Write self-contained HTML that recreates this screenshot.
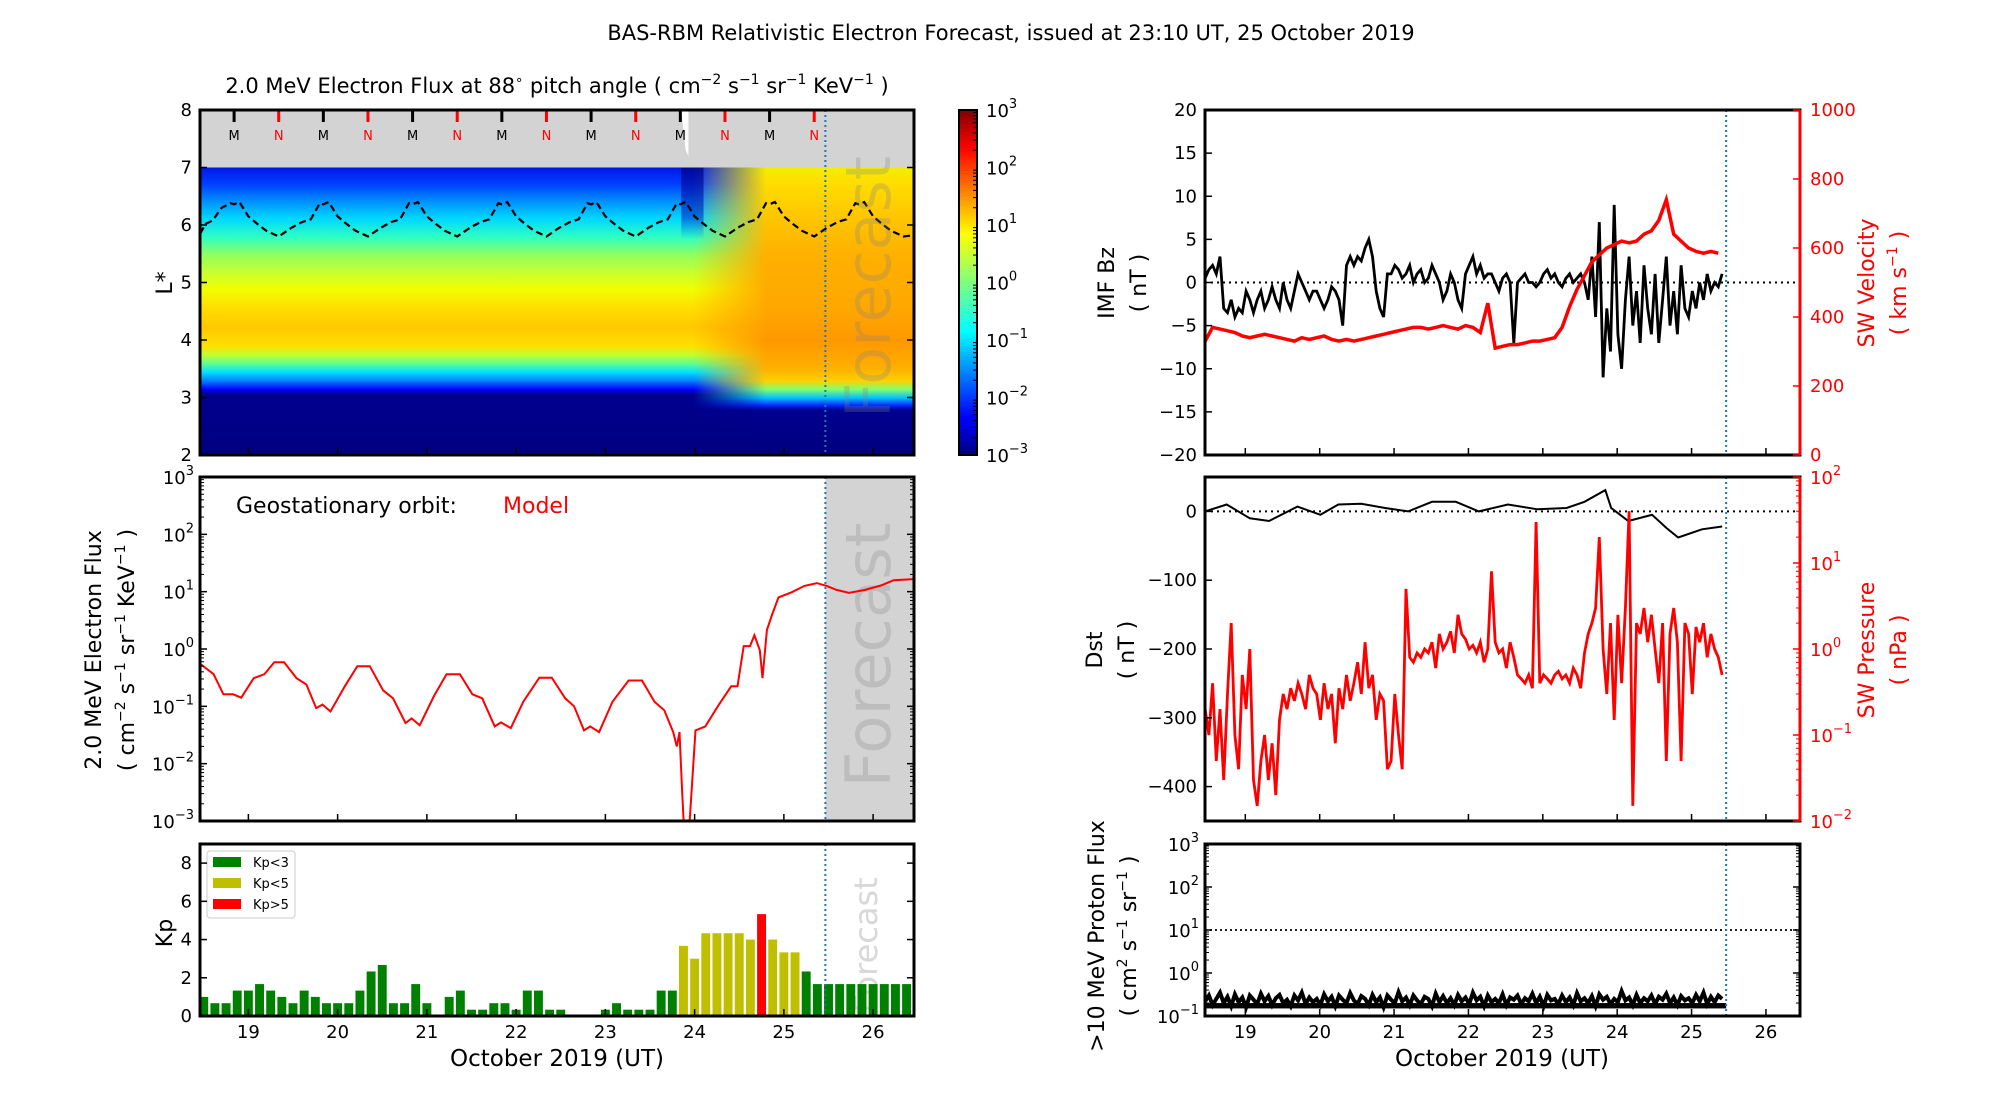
<!DOCTYPE html>
<html><head><meta charset="utf-8"><title>BAS-RBM Relativistic Electron Forecast</title>
<style>
html,body{margin:0;padding:0;background:#fff;}
svg{display:block;font-family:"DejaVu Sans","Liberation Sans",sans-serif;}
</style></head>
<body>
<svg id="chart" xmlns="http://www.w3.org/2000/svg" width="2000" height="1100" viewBox="0 0 2000 1100">
<defs>
<linearGradient id="gLeft" gradientUnits="userSpaceOnUse" x1="0" y1="455" x2="0" y2="110">
<stop offset="0" stop-color="#00007f"/><stop offset="0.175" stop-color="#00008f"/><stop offset="0.19" stop-color="#0000ff"/>
<stop offset="0.215" stop-color="#0080ff"/><stop offset="0.24" stop-color="#00e0ff"/><stop offset="0.265" stop-color="#60ff90"/>
<stop offset="0.29" stop-color="#c0ff30"/><stop offset="0.315" stop-color="#ffe000"/><stop offset="0.37" stop-color="#ffc800"/>
<stop offset="0.43" stop-color="#ffe000"/><stop offset="0.48" stop-color="#f0ff00"/><stop offset="0.53" stop-color="#c8ff30"/>
<stop offset="0.58" stop-color="#90ff60"/><stop offset="0.63" stop-color="#30ffc0"/><stop offset="0.685" stop-color="#00d8ff"/>
<stop offset="0.735" stop-color="#0090ff"/><stop offset="0.785" stop-color="#0040ff"/><stop offset="0.833" stop-color="#0018e8"/>
<stop offset="1" stop-color="#0018e8"/>
</linearGradient>
<linearGradient id="gRight" gradientUnits="userSpaceOnUse" x1="0" y1="455" x2="0" y2="110">
<stop offset="0" stop-color="#00007f"/><stop offset="0.13" stop-color="#00008f"/><stop offset="0.145" stop-color="#0030ff"/>
<stop offset="0.165" stop-color="#00c0ff"/><stop offset="0.19" stop-color="#80ff70"/><stop offset="0.215" stop-color="#ffd000"/>
<stop offset="0.25" stop-color="#ffb000"/><stop offset="0.33" stop-color="#ff9800"/><stop offset="0.43" stop-color="#ffa800"/>
<stop offset="0.58" stop-color="#ffb000"/><stop offset="0.70" stop-color="#ffc800"/><stop offset="0.80" stop-color="#ffe000"/>
<stop offset="0.833" stop-color="#f0f000"/><stop offset="1" stop-color="#f0f000"/>
</linearGradient>
<linearGradient id="gMaskH" gradientUnits="userSpaceOnUse" x1="693" y1="0" x2="766" y2="0">
<stop offset="0" stop-color="#fff" stop-opacity="0"/><stop offset="0.6" stop-color="#fff" stop-opacity="0.6"/><stop offset="1" stop-color="#fff" stop-opacity="1"/>
</linearGradient>
<mask id="mRight"><rect x="600" y="100" width="400" height="400" fill="url(#gMaskH)"/></mask>
<linearGradient id="gStreak" x1="0" y1="0" x2="0" y2="1">
<stop offset="0" stop-color="#000080" stop-opacity="0.7"/><stop offset="0.7" stop-color="#0010c0" stop-opacity="0.5"/><stop offset="1" stop-color="#0040ff" stop-opacity="0"/>
</linearGradient>
<linearGradient id="gJet" x1="0" y1="1" x2="0" y2="0">
<stop offset="0" stop-color="#00007f"/><stop offset="0.11" stop-color="#0000ff"/><stop offset="0.36" stop-color="#00ffff"/>
<stop offset="0.5" stop-color="#7fff7f"/><stop offset="0.64" stop-color="#ffff00"/><stop offset="0.89" stop-color="#ff0000"/><stop offset="1" stop-color="#7f0000"/>
</linearGradient>
<clipPath id="cLA"><rect x="200" y="110" width="714" height="345"/></clipPath>
<clipPath id="cLB"><rect x="200" y="477" width="714" height="344"/></clipPath>
<clipPath id="cLC"><rect x="200" y="844" width="714" height="172"/></clipPath>
<clipPath id="cRA"><rect x="1205" y="110" width="595" height="344"/></clipPath>
<clipPath id="cRB"><rect x="1205" y="477" width="595" height="344"/></clipPath>
<clipPath id="cRC"><rect x="1205" y="844" width="595" height="172"/></clipPath>
</defs>
<text x="1011" y="40" font-size="21" text-anchor="middle">BAS-RBM Relativistic Electron Forecast, issued at 23:10 UT, 25 October 2019</text>
<text x="557" y="93" font-size="21" text-anchor="middle">2.0 MeV Electron Flux at 88<tspan font-size="13" dy="-9">∘</tspan><tspan dy="9"> pitch angle ( cm</tspan><tspan font-size="14" dy="-9">−2</tspan><tspan dy="9"> s</tspan><tspan font-size="14" dy="-9">−1</tspan><tspan dy="9"> sr</tspan><tspan font-size="14" dy="-9">−1</tspan><tspan dy="9"> KeV</tspan><tspan font-size="14" dy="-9">−1</tspan><tspan dy="9"> )</tspan></text>
</svg>
<script>
// ---------- data ----------
const days = [19, 20, 21, 22, 23, 24, 25, 26];
const mnDaysM = [18.84, 19.84, 20.84, 21.84, 22.84, 23.84, 24.84];
const mnDaysN = [19.34, 20.34, 21.34, 22.34, 23.34, 24.34, 25.34];
const lstarDays = [18.46,18.52,18.6,18.7,18.8,18.84,18.9,19.0,19.1,19.2,19.34,19.48,19.6,19.7,19.8,19.84,19.9,20.0,20.1,20.2,20.34,20.48,20.6,20.7,20.8,20.84,20.9,21.0,21.1,21.2,21.34,21.48,21.6,21.7,21.8,21.84,21.9,22.0,22.1,22.2,22.34,22.48,22.6,22.7,22.8,22.84,22.9,23.0,23.1,23.2,23.34,23.48,23.6,23.7,23.8,23.84,23.9,24.0,24.1,24.2,24.34,24.48,24.6,24.7,24.8,24.84,24.9,25.0,25.1,25.2,25.34,25.48,25.6,25.7,25.8,25.84,25.9,26.0,26.1,26.2,26.34,26.45];
const lstarVals = [5.85,6.02,6.08,6.3,6.38,6.36,6.4,6.15,6.02,5.9,5.8,5.95,6.05,6.1,6.38,6.36,6.4,6.15,6.02,5.9,5.8,5.95,6.05,6.1,6.38,6.36,6.4,6.15,6.02,5.9,5.8,5.95,6.05,6.1,6.38,6.36,6.4,6.15,6.02,5.9,5.8,5.95,6.05,6.1,6.38,6.36,6.4,6.15,6.02,5.9,5.8,5.95,6.05,6.1,6.38,6.36,6.4,6.15,6.02,5.9,5.8,5.95,6.05,6.1,6.38,6.36,6.4,6.15,6.02,5.9,5.8,5.95,6.05,6.1,6.38,6.36,6.4,6.15,6.02,5.9,5.8,5.82];
const geoDays = [18.47,18.61,18.72,18.83,18.92,19.06,19.18,19.29,19.40,19.54,19.65,19.76,19.83,19.92,20.08,20.22,20.36,20.51,20.62,20.76,20.83,20.92,21.08,21.22,21.37,21.51,21.62,21.76,21.83,21.94,22.08,22.26,22.40,22.55,22.65,22.76,22.83,22.93,23.08,23.26,23.41,23.55,23.66,23.76,23.80,23.83,23.86,23.88,23.94,24.01,24.12,24.26,24.41,24.48,24.55,24.62,24.67,24.73,24.76,24.81,24.87,24.94,25.09,25.23,25.37,25.48,25.59,25.73,25.91,26.09,26.23,26.45];
const geoLogFlux = [-0.27,-0.44,-0.79,-0.79,-0.85,-0.51,-0.44,-0.23,-0.23,-0.51,-0.62,-1.03,-0.97,-1.09,-0.65,-0.30,-0.30,-0.72,-0.86,-1.29,-1.21,-1.33,-0.82,-0.44,-0.44,-0.79,-0.86,-1.35,-1.28,-1.38,-0.92,-0.50,-0.50,-0.86,-1.00,-1.42,-1.35,-1.45,-0.92,-0.55,-0.55,-0.92,-1.07,-1.45,-1.70,-1.45,-2.47,-3.1,-3.1,-1.42,-1.35,-1.00,-0.65,-0.65,0.05,0.05,0.24,-0.02,-0.51,0.33,0.61,0.90,0.99,1.10,1.15,1.10,1.03,0.98,1.03,1.11,1.20,1.22];
const kpStart = 18.5, kpStep = 0.125;
const kpVals = [1.0,0.67,0.67,1.33,1.33,1.67,1.33,1.0,0.67,1.33, 1.0,0.67,0.67,0.67,1.33,2.33,2.67,0.67,0.67,1.67, 0.67,0,1.0,1.33,0.33,0.33,0.67,0.67,0.33,1.33, 1.33,0.33,0.33,0,0,0,0.33,0.67,0.33,0.33, 0.33,1.33,1.33,3.67,3.0,4.33,4.33,4.33,4.33,4.0, 5.33,4.0,3.33,3.33,2.33, 1.67,1.67,1.67,1.67,1.67,1.67,1.67,1.67,1.67];
const swStart = 18.46, swStep = 0.05;
const bzVals = [0.5,1.5,2,1,3,-3,-3.5,-2,-4,-3, -3.5,-1,-2,-3.5,-2,-1,-3,-2,-0.5,-2, -3,0,-2,-3,-1,1,0,-1,-2,-1, -1,-2,-3,-2,-0.5,-1,-2,-5,2,3, 2,3,2.5,4,5,3,-1,-3,-4,1, 1,2,1.5,0.5,1,2,0,1,1.5,0, 0.5,2,1,0,-2,-1,1,0,-2,-3, 1,2,3,1,2,0.5,1,1,0,-1, 0.5,1,0,-7,0,0.5,1,0,0,-0.5, 0,1,1.5,0.5,1,0,-0.5,0.5,1,0, 0.5,1,0,-2,3,-4,7,-11,-3,-8, 9,-6,-10,-2,3,-5,-1,-7,2,-3, -6,1,-7,-2,3,-5,-1,-6,2,-3, -4,-1,-3,0,-2,1,-1,0,-0.5,1];
const vStep = 0.1;
const velVals = [330,370,365,360,355,345,340,345,350,345, 340,335,330,340,335,340,345,335,330,335, 330,335,340,345,350,355,360,365,370,370, 365,370,375,370,365,375,370,355,440,310, 315,320,320,325,330,330,335,340,370,430, 480,520,560,580,600,610,620,615,620,640, 650,680,740,640,620,600,590,585,590,585];
const dstDays = [18.46,18.75,19.06,19.32,19.70,20.01,20.25,20.56,20.88,21.19,21.51,21.83,22.14,22.53,22.93,23.32,23.56,23.84,23.92,24.15,24.47,24.66,24.82,25.14,25.41];
const dstVals = [0,10,-10,-14,7,-5,10,11,5,0,14,14,0,10,3,5,14,31,5,-14,-5,-24,-38,-26,-22];
const pVals = [0.2,0.1,0.4,0.05,0.2,0.03,0.3,2,0.1,0.04, 0.5,0.2,1.0,0.03,0.015,0.05,0.1,0.03,0.08,0.02, 0.15,0.3,0.2,0.35,0.25,0.4,0.3,0.2,0.5,0.35, 0.3,0.15,0.4,0.2,0.3,0.08,0.35,0.2,0.5,0.25, 0.4,0.7,0.3,1.2,0.35,0.5,0.15,0.3,0.25,0.04, 0.05,0.3,0.1,0.04,5,0.8,0.7,0.9,0.8,1.0, 0.9,1.2,0.6,1.5,1.0,1.2,1.6,0.9,2.5,1.5, 1.3,1.0,1.1,0.9,1.2,0.7,1.0,8,1.2,0.9, 1.0,0.6,1.2,0.8,0.5,0.45,0.4,0.5,0.35,30, 0.4,0.5,0.45,0.4,0.5,0.55,0.45,0.5,0.4,0.6, 0.5,0.35,0.9,1.5,2,3,20,1.0,0.3,2, 0.15,2.5,0.4,3,40,0.015,2,1.5,3,1.2, 2.5,1,0.4,2,0.05,1.5,3,1.2,0.05,2, 1.5,0.3,1.8,1.2,2,0.8,1.5,1.0,0.8,0.5];
const protVals = [0.22,0.3,0.18,0.25,0.35,0.2,0.28,0.17,0.32,0.21, 0.27,0.16,0.3,0.24,0.19,0.33,0.22,0.29,0.18,0.26, 0.31,0.2,0.24,0.17,0.3,0.23,0.35,0.19,0.27,0.21, 0.25,0.18,0.32,0.22,0.28,0.17,0.3,0.24,0.2,0.34, 0.23,0.19,0.29,0.25,0.18,0.31,0.21,0.27,0.16,0.3, 0.24,0.2,0.36,0.22,0.27,0.18,0.3,0.23,0.19,0.28, 0.25,0.17,0.33,0.21,0.29,0.2,0.26,0.18,0.31,0.22, 0.27,0.19,0.35,0.23,0.28,0.17,0.3,0.21,0.25,0.2, 0.32,0.18,0.27,0.24,0.3,0.19,0.26,0.22,0.33,0.2, 0.28,0.17,0.31,0.23,0.25,0.19,0.3,0.21,0.27,0.18, 0.34,0.22,0.26,0.2,0.29,0.17,0.32,0.24,0.28,0.19, 0.25,0.21,0.38,0.23,0.27,0.18,0.31,0.2,0.26,0.22, 0.3,0.19,0.28,0.24,0.33,0.2,0.27,0.18,0.29,0.23, 0.26,0.2,0.31,0.22,0.35,0.19,0.28,0.21,0.3,0.25];
const forecastDay = 25.465;

// ---------- helpers ----------
const NS = 'http://www.w3.org/2000/svg';
const svg = document.getElementById('chart');
function mk(tag, attrs, parent) { const e = document.createElementNS(NS, tag); for (const k in attrs) e.setAttribute(k, attrs[k]); (parent || svg).appendChild(e); return e; }
const D0 = 18.458, D1 = 26.458;
const L = {x0:200, x1:914}, R = {x0:1205, x1:1800};
const A = {y0:110, y1:455}, B = {y0:477, y1:821}, C = {y0:844, y1:1016};
const xL = d => L.x0 + (d - D0) * (L.x1 - L.x0) / (D1 - D0);
const xR = d => R.x0 + (d - D0) * (R.x1 - R.x0) / (D1 - D0);
const yLs = v => A.y1 - (v - 2) * (A.y1 - A.y0) / 6;
const yGeo = lg => B.y1 - (lg + 3) * (B.y1 - B.y0) / 6;
const yKp = v => C.y1 - v * (C.y1 - C.y0) / 9;
const yBz = v => A.y1 - (v + 20) * (A.y1 - A.y0) / 40;
const yVel = v => A.y1 - v * (A.y1 - A.y0) / 1000;
const yDst = v => B.y1 - (v + 450) * (B.y1 - B.y0) / 500;
const yP = p => B.y1 - (Math.log10(p) + 2) * (B.y1 - B.y0) / 4;
const yPr = p => C.y1 - (Math.log10(p) + 1) * (C.y1 - C.y0) / 4;

function pathFrom(xs, ys) { return xs.map((x, i) => (i ? 'L' : 'M') + x.toFixed(1) + ' ' + ys[i].toFixed(1)).join(''); }
function supLabel(g, x, y, exp, anchor, color, name) {
  const t = mk('text', {x:x, y:y, 'font-size':18, 'text-anchor':anchor, fill:color||'#000'}, g);
  
  
  t.appendChild(document.createTextNode('10'));
  const s = mk('tspan', {'font-size':13, dy:-9}, t); s.textContent = exp;
  return t;
}

// ---------- panel A left: flux map ----------
const gA = mk('g', {'clip-path':'url(#cLA)'});


const hmLeft = mk('rect', {x:L.x0, y:yLs(7), width:L.x1-L.x0, height:yLs(2)-yLs(7), fill:'url(#gLeft)'}, gA);


const hmRight = mk('rect', {x:xL(23.8), y:yLs(7), width:L.x1-xL(23.8), height:yLs(2)-yLs(7), fill:'url(#gRight)', mask:'url(#mRight)'}, gA);


const streak = mk('rect', {x:xL(23.85), y:yLs(7), width:xL(24.1)-xL(23.85), height:yLs(5.75)-yLs(7), fill:'url(#gStreak)'}, gA);


const topGray = mk('rect', {x:L.x0, y:yLs(8), width:L.x1-L.x0, height:yLs(7)-yLs(8), fill:'#d3d3d3'}, gA);


const wspike = mk('path', {d:`M${xL(23.85)} ${yLs(8)}L${xL(23.93)} ${yLs(8)}L${xL(23.93)} ${yLs(7.2)}L${xL(23.9)} ${yLs(7.3)}Z`, fill:'#fff'}, gA);


const dash = mk('path', {d:pathFrom(lstarDays.map(xL), lstarVals.map(yLs)), fill:'none', stroke:'#000', 'stroke-width':2.2, 'stroke-dasharray':'7 4'}, gA);


mnDaysM.forEach(d => {
  const t = mk('line', {x1:xL(d), x2:xL(d), y1:A.y0, y2:A.y0+12, stroke:'#000', 'stroke-width':3}, gA);
  
  
  const s = mk('text', {x:xL(d), y:A.y0+30, 'font-size':13, 'text-anchor':'middle', fill:'#000'}, gA);
  
  
  s.textContent = 'M';
});
mnDaysN.forEach(d => {
  const t = mk('line', {x1:xL(d), x2:xL(d), y1:A.y0, y2:A.y0+12, stroke:'#f00', 'stroke-width':3}, gA);
  
  
  const s = mk('text', {x:xL(d), y:A.y0+30, 'font-size':13, 'text-anchor':'middle', fill:'#f00'}, gA);
  
  
  s.textContent = 'N';
});
const fcA = mk('text', {x:0, y:0, 'font-size':62, fill:'#808080', 'fill-opacity':0.28, 'text-anchor':'middle', textLength:262, lengthAdjust:'spacingAndGlyphs', transform:`translate(890,287) rotate(-90)`}, gA);


fcA.textContent = 'Forecast';

// ---------- panel B left: geo flux ----------
const gB = mk('g', {'clip-path':'url(#cLB)'});


const fcBg = mk('rect', {x:xL(forecastDay), y:B.y0, width:L.x1-xL(forecastDay), height:B.y1-B.y0, fill:'#d3d3d3'}, gB);


const fcB = mk('text', {x:0, y:0, 'font-size':62, fill:'#bdbdbd', 'text-anchor':'middle', textLength:265, lengthAdjust:'spacingAndGlyphs', transform:`translate(890,655) rotate(-90)`}, gB);


fcB.textContent = 'Forecast';
const geoLine = mk('path', {d:pathFrom(geoDays.map(xL), geoLogFlux.map(yGeo)), fill:'none', stroke:'#f00', 'stroke-width':2}, gB);


const geoT = mk('text', {x:236, y:513, 'font-size':22});


geoT.textContent = 'Geostationary orbit:';
const geoM = mk('text', {x:503, y:513, 'font-size':22, fill:'#f00'});


geoM.textContent = 'Model';

// ---------- panel C left: Kp ----------
const gC = mk('g', {'clip-path':'url(#cLC)'});


const fcC = mk('text', {x:0, y:0, 'font-size':32, fill:'#d8d8d8', 'text-anchor':'middle', transform:`translate(877,945) rotate(-90)`}, gC);


fcC.textContent = 'Forecast';
const bw = (xL(1) - xL(0)) * kpStep * 0.8;
kpVals.forEach((v, i) => {
  const d = kpStart + i * kpStep;
  const col = v > 5 ? '#ff0000' : (v >= 3 ? '#bfbf00' : '#008000');
  const b = mk('rect', {x:xL(d)-bw/2, y:yKp(v), width:bw, height:yKp(0)-yKp(v), fill:col}, gC);
  
  
});
const leg = mk('g', {});


mk('rect', {x:207, y:851, width:88, height:67, rx:3, fill:'#fff', stroke:'#cccccc'}, leg);
[['#008000','Kp<3'],['#bfbf00','Kp<5'],['#ff0000','Kp>5']].forEach((e, i) => {
  const sw = mk('rect', {x:213, y:857+i*21, width:28, height:10, fill:e[0]}, leg);
  
  
  const t = mk('text', {x:253, y:867+i*21, 'font-size':13}, leg);
  
  
  t.textContent = e[1];
});

// ---------- right panel A: Bz & velocity ----------
const gRA = mk('g', {'clip-path':'url(#cRA)'});


const z0 = mk('line', {x1:R.x0, x2:R.x1, y1:yBz(0), y2:yBz(0), stroke:'#000', 'stroke-width':2, 'stroke-dasharray':'2 4'}, gRA);


const bzLine = mk('path', {d:pathFrom(bzVals.map((v,i)=>xR(swStart+i*swStep)), bzVals.map(yBz)), fill:'none', stroke:'#000', 'stroke-width':2.8}, gRA);


const vLine = mk('path', {d:pathFrom(velVals.map((v,i)=>xR(swStart+i*vStep)), velVals.map(yVel)), fill:'none', stroke:'#f00', 'stroke-width':3.5}, gRA);



// ---------- right panel B: Dst & pressure ----------
const gRB = mk('g', {'clip-path':'url(#cRB)'});


const d0 = mk('line', {x1:R.x0, x2:R.x1, y1:yDst(0), y2:yDst(0), stroke:'#000', 'stroke-width':2, 'stroke-dasharray':'2 4'}, gRB);


const dstLine = mk('path', {d:pathFrom(dstDays.map(xR), dstVals.map(yDst)), fill:'none', stroke:'#000', 'stroke-width':2}, gRB);


const pLine = mk('path', {d:pathFrom(pVals.map((v,i)=>xR(swStart+i*swStep)), pVals.map(yP)), fill:'none', stroke:'#f00', 'stroke-width':2.8}, gRB);



// ---------- right panel C: proton ----------
const gRC = mk('g', {'clip-path':'url(#cRC)'});


const p10 = mk('line', {x1:R.x0, x2:R.x1, y1:yPr(10), y2:yPr(10), stroke:'#000', 'stroke-width':1.8, 'stroke-dasharray':'2 3'}, gRC);


const prLine = mk('path', {d:pathFrom(protVals.map((v,i)=>xR(swStart+i*swStep)), protVals.map(yPr)), fill:'none', stroke:'#000', 'stroke-width':4}, gRC);


const prBase = mk('rect', {x:xR(swStart), y:yPr(0.2), width:xR(forecastDay)-xR(swStart), height:yPr(0.15)-yPr(0.2), fill:'#000'}, gRC);



// ---------- forecast lines ----------
[[xL(forecastDay), A], [xL(forecastDay), B], [xL(forecastDay), C], [xR(forecastDay), A], [xR(forecastDay), B], [xR(forecastDay), C]].forEach(p => {
  const l = mk('line', {x1:p[0], x2:p[0], y1:p[1].y0, y2:p[1].y1, stroke:'#1f77b4', 'stroke-width':2, 'stroke-dasharray':'2 3'});
  
  
});

// ---------- axes frames & ticks ----------
function frame(x0, x1, Y, name, rightColor) {
  const r = mk('rect', {x:x0, y:Y.y0, width:x1-x0, height:Y.y1-Y.y0, fill:'none', stroke:'#000', 'stroke-width':3});
  
  
  if (rightColor) { const l = mk('line', {x1:x1, x2:x1, y1:Y.y0, y2:Y.y1, stroke:rightColor, 'stroke-width':3});   }
}
function xticks(xf, Y, labels) {
  days.forEach(d => {
    const t = mk('line', {x1:xf(d), x2:xf(d), y1:Y.y1, y2:Y.y1-7, stroke:'#000', 'stroke-width':1.5});
    
    
    if (labels) {
      const s = mk('text', {x:xf(d), y:Y.y1+22, 'font-size':18, 'text-anchor':'middle'});
      
      
      s.textContent = d;
    }
  });
}
function yticks(x0, x1, yf, vals, fmt, color, side, minor) {
  vals.forEach(v => {
    const y = yf(v);
    if (side !== 'right-only') {
      const t = mk('line', {x1:x0, x2:x0+7, y1:y, y2:y, stroke:'#000', 'stroke-width':1.5});
       
    }
    if (side === 'both' || side === 'right-only') {
      const t2 = mk('line', {x1:x1, x2:x1-7, y1:y, y2:y, stroke:color||'#000', 'stroke-width':1.5});
       
    }
  });
  (minor||[]).forEach(v => {
    const y = yf(v);
    if (side !== 'right-only') { const t = mk('line', {x1:x0, x2:x0+4, y1:y, y2:y, stroke:'#000', 'stroke-width':1});   }
    if (side === 'both' || side === 'right-only') { const t = mk('line', {x1:x1, x2:x1-4, y1:y, y2:y, stroke:color||'#000', 'stroke-width':1});   }
  });
}
function logMinor(a, b, asLog) { const m = []; for (let e = a; e < b; e++) for (let k = 2; k < 10; k++) m.push(asLog ? e + Math.log10(k) : Math.pow(10, e) * k); return m; }
function plainLabels(x, yf, vals, color, anchor) {
  vals.forEach(v => {
    const s = mk('text', {x:x, y:yf(v)+6, 'font-size':18, 'text-anchor':anchor, fill:color||'#000'});
     
    s.textContent = String(v).replace('-', '−');
  });
}

// Left A
frame(L.x0, L.x1, A, 'flux-map-axes');
xticks(xL, A, false);
const lsT = [2,3,4,5,6,7,8];
yticks(L.x0, L.x1, yLs, lsT, null, null, 'both');
plainLabels(L.x0-8, yLs, lsT, '#000', 'end');
// Left B
frame(L.x0, L.x1, B, 'geo-flux-axes');
xticks(xL, B, false);
const geoT2 = [-3,-2,-1,0,1,2,3];
yticks(L.x0, L.x1, yGeo, geoT2, null, null, 'both', logMinor(-3, 3, true));
geoT2.forEach(e => supLabel(svg, L.x0-6, yGeo(e)+7, String(e).replace('-', '−'), 'end', '#000', 'y-tick-label'));
// Left C
frame(L.x0, L.x1, C, 'kp-axes');
xticks(xL, C, true);
const kpT = [0,2,4,6,8];
yticks(L.x0, L.x1, yKp, kpT, null, null, 'both');
plainLabels(L.x0-8, yKp, kpT, '#000', 'end');
// Colorbar
const cb = mk('rect', {x:959, y:110, width:18, height:345, fill:'url(#gJet)', stroke:'#000', 'stroke-width':2});


const cbY = e => 455 - (e + 3) * 345 / 6;
logMinor(-3, 3, true).forEach(e => { const t = mk('line', {x1:977, x2:973, y1:cbY(e), y2:cbY(e), stroke:'#000', 'stroke-width':1});   });
geoT2.forEach(e => supLabel(svg, 986, cbY(e)+7, String(e).replace('-', '−'), 'start', '#000', 'colorbar-label'));

// Right A
frame(R.x0, R.x1, A, 'imf-bz-axes', '#f00');
xticks(xR, A, false);
const bzT = [-20,-15,-10,-5,0,5,10,15,20];
yticks(R.x0, R.x1, yBz, bzT, null, null, 'left');
plainLabels(R.x0-8, yBz, bzT, '#000', 'end');
const vT = [0,200,400,600,800,1000];
yticks(R.x0, R.x1, yVel, vT, null, '#f00', 'right-only');
plainLabels(R.x1+10, yVel, vT, '#f00', 'start');
// Right B
frame(R.x0, R.x1, B, 'dst-axes', '#f00');
xticks(xR, B, false);
const dT = [-400,-300,-200,-100,0];
yticks(R.x0, R.x1, yDst, dT, null, null, 'left');
plainLabels(R.x0-8, yDst, dT, '#000', 'end');
const pT = [-2,-1,0,1,2];
yticks(R.x0, R.x1, e => yP(Math.pow(10, e)), pT, null, '#f00', 'right-only', logMinor(-2, 2, true));
pT.forEach(e => supLabel(svg, R.x1+10, yP(Math.pow(10, e))+7, String(e).replace('-', '−'), 'start', '#f00', 'pressure-tick-label'));
// Right C
frame(R.x0, R.x1, C, 'proton-axes');
xticks(xR, C, true);
const prT = [-1,0,1,2,3];
yticks(R.x0, R.x1, e => yPr(Math.pow(10, e)), prT, null, null, 'both', logMinor(-1, 3, true));
prT.forEach(e => supLabel(svg, R.x0-6, yPr(Math.pow(10, e))+7, String(e).replace('-', '−'), 'end', '#000', 'y-tick-label'));

// ---------- axis titles ----------
function rotText(x, y, str, size, color, name) {
  const t = mk('text', {x:0, y:0, 'font-size':size, 'text-anchor':'middle', fill:color||'#000', transform:`translate(${x},${y}) rotate(-90)`});
  
  
  t.innerHTML = str;
  return t;
}
rotText(172, 283, 'L*', 22, '#000', 'lstar-axis-title');
rotText(101, 650, '2.0 MeV Electron Flux', 22, '#000', 'geo-flux-axis-title');
rotText(134, 650, '( cm<tspan font-size="14" dy="-9">−2</tspan><tspan dy="9"> s</tspan><tspan font-size="14" dy="-9">−1</tspan><tspan dy="9"> sr</tspan><tspan font-size="14" dy="-9">−1</tspan><tspan dy="9"> KeV</tspan><tspan font-size="14" dy="-9">−1</tspan><tspan dy="9"> )</tspan>', 22, '#000', 'geo-flux-units');
rotText(172, 933, 'Kp', 22, '#000', 'kp-axis-title');
rotText(1114, 283, 'IMF Bz', 22, '#000', 'bz-axis-title');
rotText(1146, 283, '( nT )', 22, '#000', 'bz-units');
rotText(1874, 283, 'SW Velocity', 22, '#f00', 'velocity-axis-title');
rotText(1906, 283, '( km s<tspan font-size="14" dy="-9">−1</tspan><tspan dy="9"> )</tspan>', 22, '#f00', 'velocity-units');
rotText(1102, 650, 'Dst', 22, '#000', 'dst-axis-title');
rotText(1134, 650, '( nT )', 22, '#000', 'dst-units');
rotText(1874, 650, 'SW Pressure', 22, '#f00', 'pressure-axis-title');
rotText(1906, 650, '( nPa )', 22, '#f00', 'pressure-units');
rotText(1104, 936, '&gt;10 MeV Proton Flux', 22, '#000', 'proton-axis-title');
rotText(1136, 936, '( cm<tspan font-size="14" dy="-9">2</tspan><tspan dy="9"> s</tspan><tspan font-size="14" dy="-9">−1</tspan><tspan dy="9"> sr</tspan><tspan font-size="14" dy="-9">−1</tspan><tspan dy="9"> )</tspan>', 22, '#000', 'proton-units');
const xl1 = mk('text', {x:557, y:1066, 'font-size':23, 'text-anchor':'middle'});


xl1.textContent = 'October 2019 (UT)';
const xl2 = mk('text', {x:1502, y:1066, 'font-size':23, 'text-anchor':'middle'});


xl2.textContent = 'October 2019 (UT)';
</script>
</body></html>
